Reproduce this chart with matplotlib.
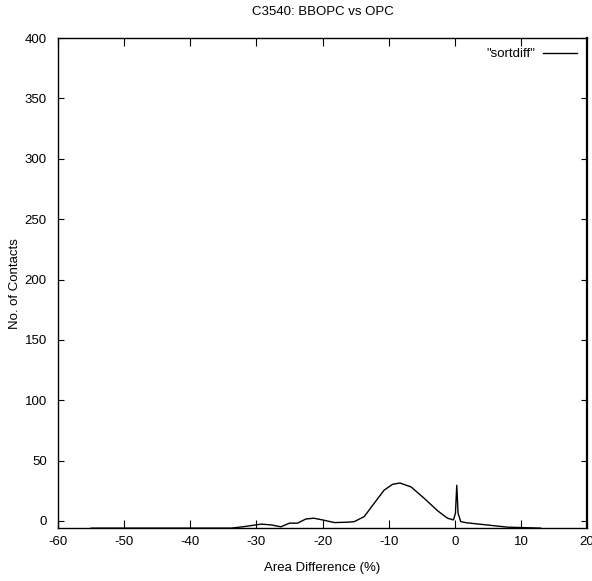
import matplotlib
matplotlib.use("Agg")
import matplotlib.pyplot as plt

# curve (area difference %, number of contacts)
diff_pct = [-55, -45, -38.4, -33.8, -31.8, -29.3, -27.8, -26.3, -25.0, -23.8,
            -22.5, -21.3, -20.0, -18.2, -16.2, -15.2, -13.7, -12.2, -10.7,
            -9.4, -8.3, -6.6, -4.6, -2.6, -1.1, -0.2, 0.1, 0.3, 0.5, 0.9,
            1.8, 3.9, 8.0, 13.0]
contacts = [-6, -6, -6, -6, -4.7, -2.7, -3.3, -4.9, -1.9, -1.9,
            1.6, 2.2, 0.8, -1.4, -1.1, -0.6, 3.5, 14.5, 25.4,
            30.3, 31.4, 28.1, 18.6, 8.4, 2.2, 0.8, 6.3, 29.5, 6.3, -0.6,
            -1.6, -2.8, -5.2, -6]

xticks = [-60, -50, -40, -30, -20, -10, 0, 10, 20]
yticks = [0, 50, 100, 150, 200, 250, 300, 350, 400]

plt.rcParams['font.family'] = ['Liberation Sans', 'DejaVu Sans']
plt.rcParams['font.size'] = 9.5
plt.rcParams['axes.unicode_minus'] = False

fig = plt.figure(figsize=(5.92, 5.81), dpi=100)
ax = fig.add_axes([0.098, 0.091, 0.8936, 0.8434])

ax.plot(diff_pct, contacts, color='black', linewidth=1.0, label='"sortdiff"')

ax.set_xlim(-60, 20)
ax.set_ylim(-6, 400)
ax.set_xticks(xticks)
ax.set_yticks(yticks)
ax.tick_params(axis='x', direction='in', length=6, width=0.8, top=True, pad=6)
ax.tick_params(axis='y', direction='in', length=4, width=0.8, right=True, pad=8)

for side in ['left', 'bottom', 'top']:
    ax.spines[side].set_linewidth(1.0)
ax.spines['right'].set_linewidth(1.6)

ax.set_title("C3540: BBOPC vs OPC", fontsize=9.5, pad=17)
ax.set_xlabel("Area Difference (%)", fontsize=9.5, labelpad=10)
ax.set_ylabel("No. of Contacts", fontsize=9.5)
ax.yaxis.set_label_coords(-0.07, 0.5)

leg = ax.legend(loc='upper right', frameon=False, fontsize=9.5,
                handlelength=2.6, handletextpad=0.6, markerfirst=False,
                borderaxespad=0.35)

fig.savefig("out.png", dpi=100)
